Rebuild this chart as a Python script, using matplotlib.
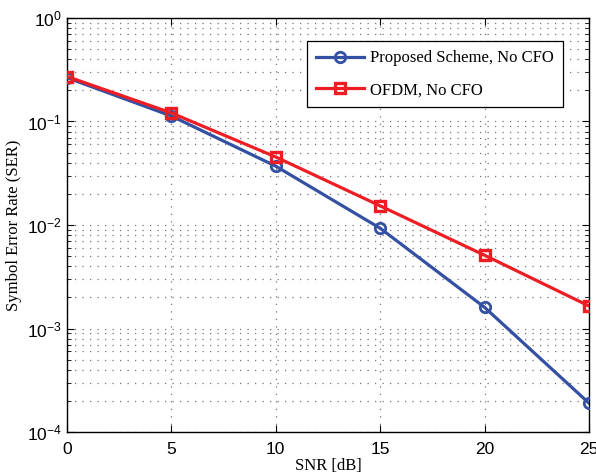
import numpy as np
import matplotlib.pyplot as plt
from matplotlib.ticker import LogLocator, NullFormatter

snr = [0, 5, 10, 15, 20, 25]
ser_proposed = [0.265, 0.113, 0.037, 0.0093, 0.0016, 0.00019]
ser_ofdm = [0.272, 0.121, 0.0454, 0.0153, 0.0051, 0.00165]

labels = ['Proposed Scheme, No CFO', 'OFDM, No CFO']
xticks = [0, 5, 10, 15, 20, 25]

fig = plt.figure(figsize=(5.96, 4.73), dpi=100)
ax = fig.add_axes([67 / 596, 1 - 432 / 473, (589 - 67) / 596, (432 - 18) / 473])

ax.semilogy(snr, ser_proposed, '-o', color='#3450a2', lw=2.3, ms=7.5,
            mfc='none', mew=2.0, label=labels[0], zorder=3)
ax.semilogy(snr, ser_ofdm, '-s', color='#ee1d24', lw=2.3, ms=7,
            mfc='none', mew=2.4, label=labels[1], zorder=3)

ax.set_xlim(0, 25)
ax.set_ylim(1e-4, 1)
ax.set_xticks(xticks)
ax.yaxis.set_major_locator(LogLocator(base=10, numticks=10))
ax.yaxis.set_minor_locator(LogLocator(base=10, subs=np.arange(2, 10), numticks=10))
ax.yaxis.set_minor_formatter(NullFormatter())

grid_style = dict(ls=(0, (1, 5)), color='#777777', lw=0.9)
ax.grid(True, which='major', **grid_style)
ax.grid(True, which='minor', axis='y', **grid_style)

ax.tick_params(which='both', direction='in', top=True, right=True, labelsize=12.5)
ax.tick_params(axis='x', which='major', pad=7)
ax.tick_params(which='major', length=5)
ax.tick_params(which='minor', length=3)
for lab in ax.get_xticklabels() + ax.get_yticklabels():
    lab.set_family('Liberation Sans')
for s in ax.spines.values():
    s.set_linewidth(1.0)

ax.set_xlabel('SNR [dB]', family='Liberation Serif', fontsize=12, labelpad=1)
ax.set_ylabel('Symbol Error Rate (SER)', family='Liberation Serif', fontsize=12, labelpad=4)

leg = ax.legend(loc='upper right', bbox_to_anchor=(0.950, 0.944), borderaxespad=0,
                fancybox=False, edgecolor='black', framealpha=1,
                prop={'family': 'Liberation Serif', 'size': 12},
                handlelength=2.9, handletextpad=0.35, borderpad=0.55, labelspacing=0.95)
leg.get_frame().set_linewidth(0.9)

fig.savefig('out.png', dpi=100)
